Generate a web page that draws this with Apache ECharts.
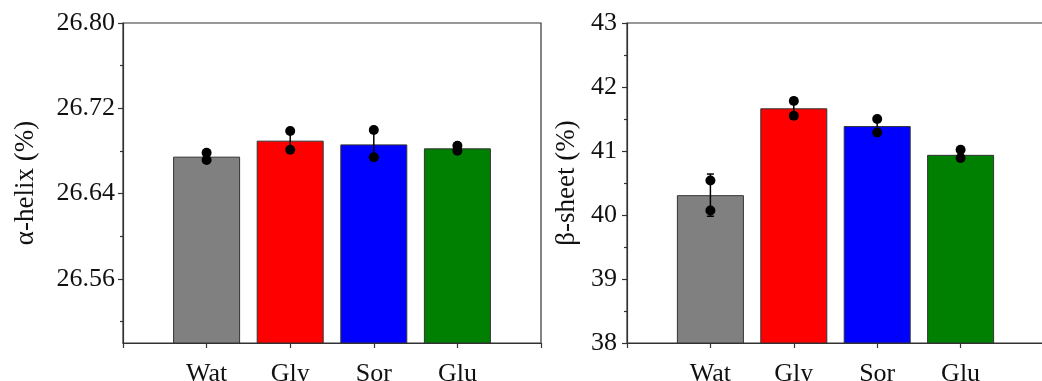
<!DOCTYPE html>
<html lang="en">
<head>
    <meta charset="utf-8">
    <title>alpha-helix / beta-sheet</title>
    <script src="https://cdn.jsdelivr.net/npm/echarts@6/dist/echarts.min.js"></script>
</head>
<body style="margin:0;">
<div id="main" style="width:1042px; height:381px;"></div>
<script type="text/javascript">
    // samples
    const categories = ['Wat', 'Gly', 'Sor', 'Glu'];
    const barColors = ['#808080', '#ff0000', '#0000ff', '#008000'];

    // alpha-helix (%)
    const alphaMean = [26.6747, 26.6897, 26.6862, 26.6825];
    const alphaErr = [0.0048, 0.0110, 0.0140, 0.0033];
    const alphaPts1 = [26.6784, 26.6988, 26.6997, 26.6850];
    const alphaPts2 = [26.6716, 26.6812, 26.6741, 26.6803];
    const alphaTicks = [26.56, 26.64, 26.72, 26.80];
    const alphaMinor = [26.52, 26.60, 26.68, 26.76];

    // beta-sheet (%)
    const betaMean = [40.31, 41.667, 41.39, 40.94];
    const betaErr = [0.33, 0.163, 0.148, 0.092];
    const betaPts1 = [40.54, 41.78, 41.50, 41.02];
    const betaPts2 = [40.07, 41.55, 41.29, 40.89];
    const betaTicks = [38, 39, 40, 41, 42, 43];

    const FONT = '"Liberation Serif", "Times New Roman", serif';
    const AXIS_COLOR = '#333';

    // one empty slot on each side so the ticks fall on the frame edges
    const paddedCats = [''].concat(categories, ['']);

    function barData(means) {
        return [null].concat(means.map(function (v, i) {
            return { value: v, itemStyle: { color: barColors[i] } };
        }), [null]);
    }

    function errData(means, errs) {
        return means.map(function (v, i) { return [i + 1, v, errs[i]]; });
    }

    function ptsData(a, b) {
        let out = [];
        a.forEach(function (v, i) { out.push([i + 1, v]); });
        b.forEach(function (v, i) { out.push([i + 1, v]); });
        return out;
    }

    function renderErr(params, api) {
        const x = api.value(0), m = api.value(1), e = api.value(2);
        const top = api.coord([x, m + e]);
        const bot = api.coord([x, m - e]);
        const cap = 3.5;
        const style = { stroke: '#000', lineWidth: 1.5 };
        return {
            type: 'group',
            children: [
                { type: 'line', shape: { x1: top[0], y1: top[1], x2: bot[0], y2: bot[1] }, style: style },
                { type: 'line', shape: { x1: top[0] - cap, y1: top[1], x2: top[0] + cap, y2: top[1] }, style: style },
                { type: 'line', shape: { x1: bot[0] - cap, y1: bot[1], x2: bot[0] + cap, y2: bot[1] }, style: style }
            ]
        };
    }

    function xAxisFor(idx) {
        return {
            type: 'category',
            gridIndex: idx,
            data: paddedCats,
            boundaryGap: false,
            axisLine: { lineStyle: { color: AXIS_COLOR, width: 1.2 } },
            axisTick: { length: 5, inside: false, lineStyle: { color: AXIS_COLOR, width: 1.2 } },
            axisLabel: { color: '#111', fontFamily: FONT, fontSize: 26, margin: 18 },
            splitLine: { show: false }
        };
    }

    const labelStyle = { color: '#111', fontFamily: FONT, fontSize: 26 };

    let myChart = echarts.init(document.getElementById('main'));
    const option = {
        animation: false,
        backgroundColor: '#fff',
        grid: [
            { left: 123, top: 23, width: 418, height: 320, show: true, borderColor: AXIS_COLOR, borderWidth: 1.2, outerBoundsMode: 'none', containLabel: false },
            { left: 627, top: 23, width: 417, height: 320, show: true, borderColor: AXIS_COLOR, borderWidth: 1.2, outerBoundsMode: 'none', containLabel: false }
        ],
        xAxis: [xAxisFor(0), xAxisFor(1)],
        yAxis: [
            {
                type: 'value', gridIndex: 0, min: 26.50, max: 26.80,
                name: 'α-helix (%)', nameLocation: 'middle', nameGap: 84,
                nameTextStyle: { color: '#111', fontFamily: FONT, fontSize: 27 },
                axisLine: { show: true, lineStyle: { color: AXIS_COLOR, width: 1.2 } },
                axisTick: { show: true, length: 5, customValues: alphaTicks, lineStyle: { color: AXIS_COLOR, width: 1.2 } },
                axisLabel: Object.assign({ customValues: alphaTicks, margin: 8, formatter: function (v) { return v.toFixed(2); } }, labelStyle),
                splitLine: { show: false }
            },
            {
                type: 'value', gridIndex: 0, min: 26.50, max: 26.80, position: 'left',
                axisLine: { show: false },
                axisTick: { show: true, length: 3, customValues: alphaMinor, lineStyle: { color: AXIS_COLOR, width: 1.2 } },
                axisLabel: { show: false },
                splitLine: { show: false }
            },
            {
                type: 'value', gridIndex: 1, min: betaTicks[0], max: betaTicks[betaTicks.length - 1], interval: 1,
                name: 'β-sheet (%)', nameLocation: 'middle', nameGap: 47,
                nameTextStyle: { color: '#111', fontFamily: FONT, fontSize: 27 },
                axisLine: { show: true, lineStyle: { color: AXIS_COLOR, width: 1.2 } },
                axisTick: { show: true, length: 5, lineStyle: { color: AXIS_COLOR, width: 1.2 } },
                minorTick: { show: true, splitNumber: 2, length: 3, lineStyle: { color: AXIS_COLOR, width: 1.2 } },
                axisLabel: Object.assign({ margin: 10 }, labelStyle),
                splitLine: { show: false }
            }
        ],
        series: [
            {
                type: 'bar', xAxisIndex: 0, yAxisIndex: 0, barWidth: 67,
                data: barData(alphaMean),
                itemStyle: { borderColor: '#333', borderWidth: 1 }
            },
            {
                type: 'custom', xAxisIndex: 0, yAxisIndex: 0, z: 5,
                renderItem: renderErr, data: errData(alphaMean, alphaErr)
            },
            {
                type: 'scatter', xAxisIndex: 0, yAxisIndex: 0, z: 6,
                symbolSize: 10, itemStyle: { color: '#000', opacity: 1 },
                data: ptsData(alphaPts1, alphaPts2)
            },
            {
                type: 'bar', xAxisIndex: 1, yAxisIndex: 2, barWidth: 67,
                data: barData(betaMean),
                itemStyle: { borderColor: '#333', borderWidth: 1 }
            },
            {
                type: 'custom', xAxisIndex: 1, yAxisIndex: 2, z: 5,
                renderItem: renderErr, data: errData(betaMean, betaErr)
            },
            {
                type: 'scatter', xAxisIndex: 1, yAxisIndex: 2, z: 6,
                symbolSize: 10, itemStyle: { color: '#000', opacity: 1 },
                data: ptsData(betaPts1, betaPts2)
            }
        ]
    };
    myChart.setOption(option);
</script>
</body>
</html>
